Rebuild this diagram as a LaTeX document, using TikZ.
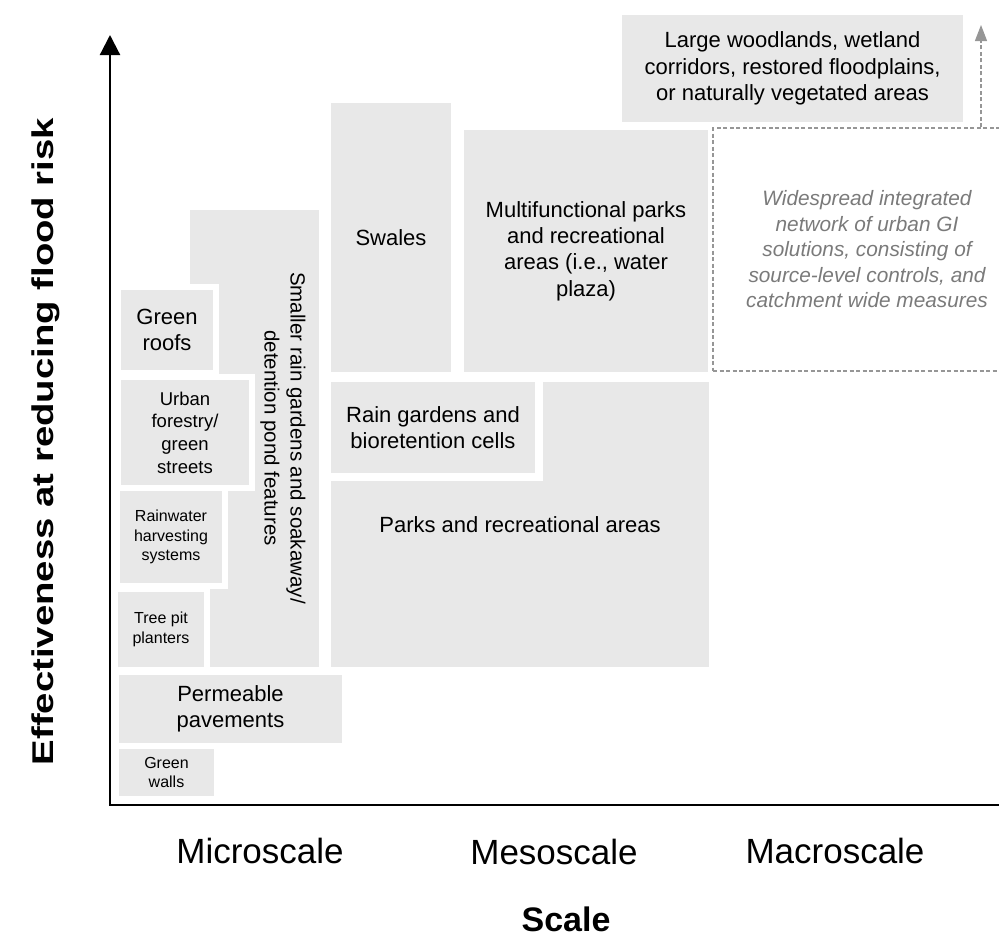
\documentclass[tikz,border=0pt]{standalone}
\usepackage{fontspec}
\setmainfont{Liberation Sans}
\usepackage{graphicx}
\usetikzlibrary{arrows.meta}
\definecolor{boxgray}{RGB}{232,232,232}
\definecolor{dashgray}{RGB}{150,150,150}
\definecolor{softtext}{RGB}{122,122,122}
\tikzset{
  bsz/.style n args={2}{minimum width=#1pt, minimum height=#2pt},
  gbox/.style={fill=boxgray, draw=none, inner sep=0pt, outer sep=0pt, align=center, text=black},
  inbox/.style={fill=boxgray, draw=white, line width=6pt, inner sep=0pt, outer sep=0pt, align=center, text=black},
  fbig/.style={font=\fontsize{22}{26.3}\selectfont},
  fmid/.style={font=\fontsize{18.5}{22.7}\selectfont},
  fsmall/.style={font=\fontsize{16}{19.3}\selectfont},
  scalelab/.style={font=\fontsize{35}{42}\selectfont, anchor=base, inner sep=0pt, outer sep=0pt},
  axisline/.style={line width=2.2pt, black, -{Triangle[width=20pt,length=20pt]}},
  dashbox/.style={draw=dashgray, line width=1.2pt, dash pattern=on 4pt off 2.5pt, inner sep=0pt, align=center},
  dasharrow/.style={draw=dashgray, line width=1.2pt, dash pattern=on 4pt off 2.5pt, -{Triangle[width=12pt,length=16pt,fill=dashgray]}}
}
\begin{document}
\begin{tikzpicture}[x=1pt, y=-1pt]
\useasboundingbox (0,0) rectangle (999,940);
\clip (0,0) rectangle (999,940);

% large boxes
\node[gbox, bsz={341}{107}, fbig] (wood) at (792.5,68.5) {Large woodlands, wetland\\corridors, restored floodplains,\\or naturally vegetated areas};
\node[gbox, bsz={120}{269}, fbig] (swales) at (391,237.5) {Swales};
\node[gbox, bsz={244}{242}, fbig] (multi) at (586,251) {Multifunctional parks\\and recreational\\areas (i.e., water\\plaza)};
\node[gbox, bsz={378}{285}, fbig] (parks) at (520,524.5) {Parks and recreational areas};
\node[inbox, line width=8pt, bsz={212}{99}, fbig] (raingb) at (433,427.5) {Rain gardens and\\bioretention cells};

% smaller rain gardens (tall box behind microscale items)
\node[gbox, bsz={129}{457}] (srain) at (254.5,438.5) {};
\node[inbox, bsz={98}{86}, fbig] (roofs) at (167,330) {Green\\roofs};
\node[inbox, bsz={134}{111}, fmid] (urban) at (185,432.5) {Urban\\forestry/\\green\\streets};
\node[inbox, bsz={108}{98}, fsmall] (rainw) at (171,537) {Rainwater\\harvesting\\systems};
\node[inbox, bsz={92}{81}, fsmall] (treepit) at (161,629.5) {Tree pit\\planters};
\node[rotate=-90, align=center, inner sep=0pt, font=\fontsize{20.5}{26}\selectfont] (sraintxt) at (283,438) {Smaller rain gardens and soakaway/\\detention pond features};

\node[gbox, bsz={223}{68}, fbig] (perm) at (230.5,709) {Permeable\\pavements};
\node[gbox, bsz={95}{47}, fsmall] (walls) at (166.5,772.5) {Green\\walls};

% dashed macroscale box
\node[dashbox, bsz={308}{243}, text=softtext, font=\fontsize{20.8}{25.5}\selectfont\itshape] (gi) at (867,249.5) {Widespread integrated\\network of urban GI\\solutions, consisting of\\source-level controls, and\\catchment wide measures};
\coordinate (gitip) at (981,25);
\draw[dasharrow] (gitip |- gi.north) -- (gitip);

% axes
\coordinate (O) at (110,805);
\coordinate (ytip) at (110,35);
\coordinate (xend) at (1010,805);
\draw[axisline] (xend) -- (O) -- (ytip);

% axis labels
\node[scalelab] (micro) at (260,863) {Microscale};
\node[scalelab] (meso) at (554,864) {Mesoscale};
\node[scalelab] (macro) at (835,863) {Macroscale};
\node[scalelab, font=\fontsize{34}{40}\selectfont\bfseries] (scale) at (566,931) {Scale};
\node[rotate=90, anchor=base, inner sep=0pt, font=\fontsize{30}{36}\selectfont\bfseries] (ylab) at (53,441.5) {\scalebox{1.277}[1]{Effectiveness at reducing flood risk}};
\end{tikzpicture}
\end{document}
